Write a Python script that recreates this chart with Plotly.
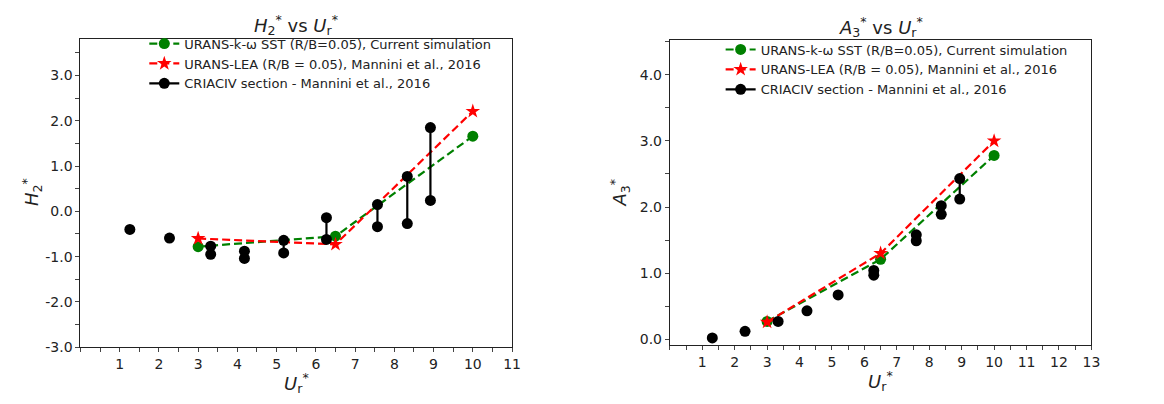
import plotly.graph_objects as go

# ---------------- data ----------------
# Left panel: H2* vs Ur*
sim_x = [3.0, 6.5, 10.0]
h2_sim = [-0.78, -0.55, 1.66]
h2_lea = [-0.60, -0.73, 2.21]

exp_x = [1.26, 2.27, 3.32, 4.18, 5.18, 6.27, 7.57, 8.33, 8.92]
h2_exp_a = [-0.40, -0.59, -0.77, -0.88, -0.64, -0.14, 0.15, 0.77, 1.85]
h2_exp_b = [None, None, -0.95, -1.04, -0.92, -0.62, -0.34, -0.27, 0.24]

# Right panel: A3* vs Ur*
a3_sim = [0.27, 1.21, 2.78]
a3_lea = [0.26, 1.30, 3.00]

exp_x_r = [1.31, 2.32, 3.34, 4.23, 5.19, 6.29, 7.60, 8.37, 8.94]
a3_exp_a = [0.02, 0.12, 0.27, 0.43, 0.67, 1.04, 1.58, 2.02, 2.43]
a3_exp_b = [None, None, None, None, None, 0.97, 1.49, 1.89, 2.12]

# tick labels
left_xticks = [1, 2, 3, 4, 5, 6, 7, 8, 9, 10, 11]
right_xticks = [1, 2, 3, 4, 5, 6, 7, 8, 9, 10, 11, 12, 13]
left_yticks = [-3.0, -2.0, -1.0, 0.0, 1.0, 2.0, 3.0]
right_yticks = [0.0, 1.0, 2.0, 3.0, 4.0]

names = ["URANS-k-\u03c9 SST (R/B=0.05), Current simulation",
         "URANS-LEA (R/B = 0.05), Mannini et al., 2016",
         "CRIACIV section - Mannini et al., 2016"]

FONT = "DejaVu Sans, Arial, sans-serif"


def seg_series(xs, ya, yb):
    X, Y = [], []
    for x, a, b in zip(xs, ya, yb):
        X.append(x); Y.append(a)
        if b is not None:
            X.append(x); Y.append(b)
        X.append(None); Y.append(None)
    return X, Y


fig = go.Figure()

panels = [
    dict(xa="x", ya="y", legend="legend", sim=h2_sim, lea=h2_lea,
         ex=exp_x, ea=h2_exp_a, eb=h2_exp_b),
    dict(xa="x2", ya="y2", legend="legend2", sim=a3_sim, lea=a3_lea,
         ex=exp_x_r, ea=a3_exp_a, eb=a3_exp_b),
]

for p in panels:
    fig.add_trace(go.Scatter(
        x=sim_x, y=p["sim"], mode="lines+markers", name=names[0],
        line=dict(color="green", width=2.2, dash="8px,4px"),
        marker=dict(color="green", size=11, symbol="circle"),
        xaxis=p["xa"], yaxis=p["ya"], legend=p["legend"]))
    fig.add_trace(go.Scatter(
        x=sim_x, y=p["lea"], mode="lines+markers", name=names[1],
        line=dict(color="red", width=2.2, dash="8px,4px"),
        marker=dict(color="red", size=11, symbol="star"),
        xaxis=p["xa"], yaxis=p["ya"], legend=p["legend"]))
    X, Y = seg_series(p["ex"], p["ea"], p["eb"])
    fig.add_trace(go.Scatter(
        x=X, y=Y, mode="lines+markers", name=names[2],
        line=dict(color="black", width=2.2),
        marker=dict(color="black", size=11, symbol="circle"),
        connectgaps=False,
        xaxis=p["xa"], yaxis=p["ya"], legend=p["legend"]))

axis_common = dict(showgrid=False, zeroline=False, showline=True, linecolor="#222",
                   linewidth=1, mirror=True, ticks="outside", ticklen=4,
                   tickcolor="#444", tickwidth=1, tickmode="array",
                   minor=dict(ticks="outside", dtick=0.5, ticklen=4, tickcolor="#444",
                              tickwidth=1, showgrid=False),
                   tickfont=dict(family=FONT, size=14, color="#222"))

fig.update_layout(
    width=1164, height=404,
    margin=dict(l=0, r=0, t=0, b=0),
    paper_bgcolor="white", plot_bgcolor="white",
    font=dict(family=FONT, color="#222"),
    xaxis=dict(domain=[0.0627, 0.4364], range=[0, 11], tickvals=left_xticks,
               ticktext=[str(v) for v in left_xticks], anchor="y", **axis_common),
    yaxis=dict(domain=[0.1436, 0.921], range=[-3.0, 3.8], tickvals=left_yticks,
               ticktext=["%.1f" % v for v in left_yticks], anchor="x", **axis_common),
    xaxis2=dict(domain=[0.573, 0.938], range=[0, 13], tickvals=right_xticks,
                ticktext=[str(v) for v in right_xticks], anchor="y2", **axis_common),
    yaxis2=dict(domain=[0.1485, 0.918], range=[-0.09, 4.52], tickvals=right_yticks,
                ticktext=["%.1f" % v for v in right_yticks], anchor="x2", **axis_common),
    legend=dict(x=0.118, y=0.948, xanchor="left", yanchor="top",
                bgcolor="rgba(0,0,0,0)", borderwidth=0, tracegroupgap=0,
                itemwidth=30, font=dict(family=FONT, size=13, color="#222")),
    legend2=dict(x=0.617, y=0.933, xanchor="left", yanchor="top",
                 bgcolor="rgba(0,0,0,0)", borderwidth=0, tracegroupgap=0,
                 itemwidth=30, font=dict(family=FONT, size=13, color="#222")),
    showlegend=True,
)

ann = [
    dict(text="<i>H</i><sub>2</sub><sup>*</sup> vs <i>U</i><sub>r</sub><sup>*</sup>",
         x=0.2496, y=17, size=18),
    dict(text="<i>A</i><sub>3</sub><sup>*</sup> vs <i>U</i><sub>r</sub><sup>*</sup>",
         x=0.7555, y=19, size=18),
    dict(text="<i>U</i><sub>r</sub><sup>*</sup>", x=0.2496, y=383, size=18),
    dict(text="<i>U</i><sub>r</sub><sup>*</sup>", x=0.7555, y=381, size=18),
]
for a in ann:
    fig.add_annotation(text=a["text"], x=a["x"], y=1 - a["y"] / 404, xref="paper",
                       yref="paper", showarrow=False, xanchor="center", yanchor="middle",
                       font=dict(family=FONT, size=a["size"], color="#222"))

fig.add_annotation(text="<i>H</i><sub>2</sub><sup>*</sup>", x=24 / 1164, y=1 - 188 / 404,
                   xref="paper", yref="paper", showarrow=False, textangle=-90,
                   xanchor="center", yanchor="middle",
                   font=dict(family=FONT, size=18, color="#222"))
fig.add_annotation(text="<i>A</i><sub>3</sub><sup>*</sup>", x=617 / 1164, y=1 - 188 / 404,
                   xref="paper", yref="paper", showarrow=False, textangle=-90,
                   xanchor="center", yanchor="middle",
                   font=dict(family=FONT, size=18, color="#222"))

fig.write_html("out.html")
